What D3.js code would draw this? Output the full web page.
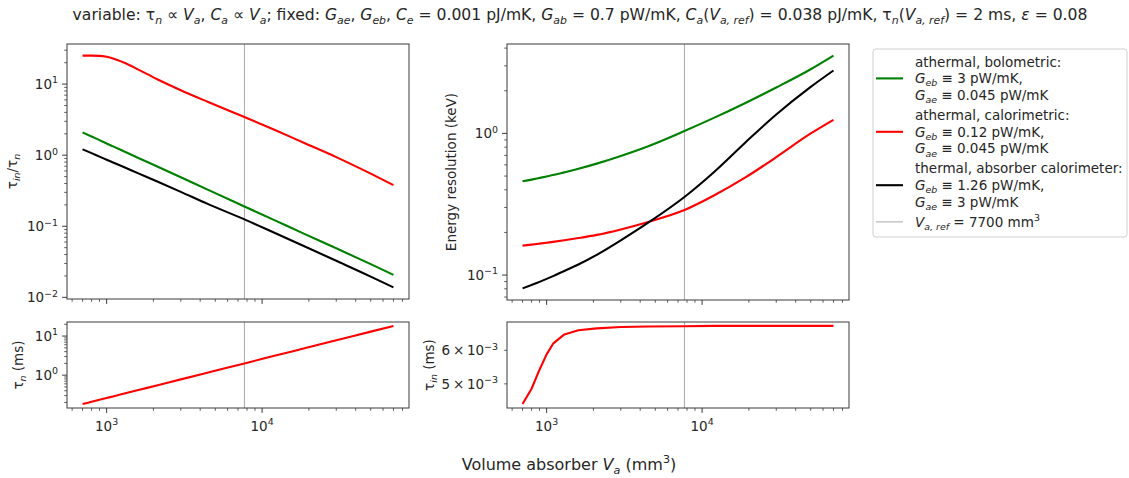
<!DOCTYPE html>
<html>
<head>
<meta charset="utf-8">
<script src="https://cdn.jsdelivr.net/npm/d3@7"></script>
<style>
  body { margin: 0; background: #fff; }
  svg { font-family: "DejaVu Sans", sans-serif; }
</style>
</head>
<body>
<svg id="canvas" width="1129" height="478"></svg>
<script>
'use strict';

/* volumes of the absorber (mm^3) where the curves were read */
const volumes = [700, 800, 900, 1000, 1100, 1300, 1600, 2100, 3000, 4500, 7700, 12000, 19000, 30000, 50000, 70000];
const vRef = 7700;

/* top left: tau_in / tau_n */
const ratioBolo  = [2.09, 1.83, 1.63, 1.46, 1.33, 1.125, 0.915, 0.70, 0.49, 0.325, 0.19, 0.122, 0.077, 0.049, 0.0293, 0.0207];
const ratioCalo  = [25.2, 25.2, 25.0, 24.2, 23.0, 20.0, 16.0, 11.8, 8.2, 5.6, 3.44, 2.28, 1.46, 0.94, 0.55, 0.38];
const ratioTherm = [1.21, 1.07, 0.955, 0.865, 0.79, 0.675, 0.555, 0.43, 0.305, 0.205, 0.125, 0.081, 0.0515, 0.0327, 0.0196, 0.0138];

/* top right: energy resolution (keV) */
const resBolo  = [0.459, 0.472, 0.485, 0.497, 0.508, 0.531, 0.5625, 0.612, 0.693, 0.812, 1.04, 1.292, 1.641, 2.11, 2.838, 3.54];
const resCalo  = [0.1615, 0.1641, 0.1667, 0.1692, 0.1716, 0.1762, 0.1825, 0.1922, 0.2101, 0.2373, 0.2879, 0.3661, 0.4888, 0.68, 0.999, 1.247];
const resTherm = [0.0806, 0.0852, 0.0896, 0.094, 0.0984, 0.107, 0.1187, 0.139, 0.176, 0.2344, 0.356, 0.537, 0.864, 1.36, 2.13, 2.78];

/* bottom row: tau_n and tau_in (ms) */
const tauN  = [0.182, 0.208, 0.234, 0.26, 0.286, 0.338, 0.416, 0.545, 0.78, 1.17, 2.0, 3.12, 4.94, 7.8, 13.0, 18.2];
const tauIn = [0.00448, 0.00487, 0.00540, 0.00587, 0.00622, 0.00654, 0.00669, 0.00676, 0.00681, 0.00683, 0.00684, 0.00685, 0.00685, 0.00685, 0.00685, 0.00685];

const svg = d3.select('#canvas');
const axisColor = '#3a3a3a';
const textColor = '#262626';
const FS = 13.5;

/* write a label made of plain, italic, sub and superscript pieces */
function rich(sel, parts, size){
  let shift = 0;
  parts.forEach(function(p){
    if (typeof p === 'string') p = {t: p};
    let target = p.s === 'sub' ? 0.24*size : (p.s === 'sup' ? -0.42*size : 0);
    let ts = sel.append('tspan').text(p.t);
    if (target !== shift) ts.attr('dy', target - shift);
    if (p.s) ts.attr('font-size', size*0.7);
    if (p.i) ts.attr('font-style', 'italic');
    shift = target;
  });
  return sel;
}

/* log domain with matplotlib-like 5% margins */
function logDomain(values){
  let ext = d3.extent(values);
  let a = Math.log10(ext[0]), b = Math.log10(ext[1]);
  let m = (b - a)*0.05;
  return [Math.pow(10, a - m), Math.pow(10, b + m)];
}

const xDomain = logDomain(volumes);

function logTicks(domain){
  let major = [], minor = [];
  let lo = Math.floor(Math.log10(domain[0])), hi = Math.ceil(Math.log10(domain[1]));
  for (let e = lo; e <= hi; e++){
    for (let k = 1; k < 10; k++){
      let v = k*Math.pow(10, e);
      if (v < domain[0]*0.9999 || v > domain[1]*1.0001) continue;
      (k === 1 ? major : minor).push(v);
    }
  }
  return {major: major, minor: minor};
}

function expParts(v){
  let e = Math.round(Math.log10(v));
  return ['10', {t: (e < 0 ? '\u2212' : '') + Math.abs(e), s: 'sup'}];
}

const panels = [
  {x: 67, y: 44, w: 342, h: 255, series: [[ratioBolo, 'green'], [ratioCalo, 'red'], [ratioTherm, 'black']],
   xlabels: false, ylabel: ['\u03c4', {t: 'in', s: 'sub', i: true}, '/\u03c4', {t: 'n', s: 'sub', i: true}], ylx: 17,
   curve: d3.curveMonotoneX},
  {x: 67, y: 322, w: 342, h: 86, series: [[tauN, 'red']],
   xlabels: true, ylabel: ['\u03c4', {t: 'n', s: 'sub', i: true}, ' (ms)'], ylx: 23, curve: d3.curveMonotoneX},
  {x: 507, y: 44, w: 342, h: 256, series: [[resBolo, 'green'], [resCalo, 'red'], [resTherm, 'black']],
   xlabels: false, ylabel: ['Energy resolution (keV)'], ylx: 456, curve: d3.curveMonotoneX},
  {x: 507, y: 322, w: 342, h: 86, series: [[tauIn, 'red']],
   xlabels: true, ylabel: ['\u03c4', {t: 'in', s: 'sub', i: true}, ' (ms)'], ylx: 434, minorLabels: true,
   curve: d3.curveLinear}
];

panels.forEach(function(p){
  let g = svg.append('g').attr('transform', 'translate(' + p.x + ',' + p.y + ')');
  let all = [];
  p.series.forEach(function(s){ all = all.concat(s[0]); });
  let x = d3.scaleLog().domain(xDomain).range([0, p.w]);
  let yDom = logDomain(all);
  let y = d3.scaleLog().domain(yDom).range([p.h, 0]);

  /* reference volume */
  g.append('line')
    .attr('x1', x(vRef)).attr('x2', x(vRef))
    .attr('y1', 0).attr('y2', p.h)
    .attr('stroke', '#a8a8a8').attr('stroke-width', 1);

  let line = d3.line()
    .x(function(d, i){ return x(volumes[i]); })
    .y(function(d){ return y(d); })
    .curve(p.curve);

  p.series.forEach(function(s){
    g.append('path')
      .datum(s[0])
      .attr('d', line)
      .attr('fill', 'none')
      .attr('stroke', s[1])
      .attr('stroke-width', 2.1)
      .attr('stroke-linejoin', 'round');
  });

  /* frame */
  g.append('rect')
    .attr('width', p.w).attr('height', p.h)
    .attr('fill', 'none').attr('stroke', axisColor).attr('stroke-width', 1);

  /* x ticks */
  let xt = logTicks(xDomain);
  xt.major.forEach(function(v){
    g.append('line').attr('x1', x(v)).attr('x2', x(v)).attr('y1', p.h).attr('y2', p.h + 4.9)
      .attr('stroke', axisColor);
    if (p.xlabels){
      rich(g.append('text').attr('x', x(v)).attr('y', p.h + 23).attr('text-anchor', 'middle')
        .attr('font-size', FS).attr('fill', textColor), expParts(v), FS);
    }
  });
  xt.minor.forEach(function(v){
    g.append('line').attr('x1', x(v)).attr('x2', x(v)).attr('y1', p.h).attr('y2', p.h + 2.8)
      .attr('stroke', axisColor).attr('stroke-width', 0.8);
  });

  /* y ticks */
  let yt = logTicks(yDom);
  yt.major.forEach(function(v){
    g.append('line').attr('x1', -4.9).attr('x2', 0).attr('y1', y(v)).attr('y2', y(v)).attr('stroke', axisColor);
    rich(g.append('text').attr('x', -9).attr('y', y(v) + 5).attr('text-anchor', 'end')
      .attr('font-size', FS).attr('fill', textColor), expParts(v), FS);
  });
  yt.minor.forEach(function(v){
    g.append('line').attr('x1', -2.8).attr('x2', 0).attr('y1', y(v)).attr('y2', y(v))
      .attr('stroke', axisColor).attr('stroke-width', 0.8);
    if (p.minorLabels){
      let e = Math.floor(Math.log10(v));
      let k = Math.round(v/Math.pow(10, e));
      rich(g.append('text').attr('x', -9).attr('y', y(v) + 5).attr('text-anchor', 'end')
        .attr('font-size', FS).attr('fill', textColor),
        [k + '\u2009\u00d7\u200910', {t: (e < 0 ? '\u2212' : '') + Math.abs(e), s: 'sup'}], FS);
    }
  });

  /* y label */
  rich(svg.append('text')
    .attr('transform', 'translate(' + p.ylx + ',' + (p.y + p.h/2) + ') rotate(-90)')
    .attr('text-anchor', 'middle').attr('font-size', FS).attr('fill', textColor), p.ylabel, FS);
});

/* title */
rich(svg.append('text').attr('x', 580).attr('y', 20).attr('text-anchor', 'middle')
  .attr('font-size', 15.6).attr('fill', textColor), [
  'variable: \u03c4', {t: 'n', s: 'sub', i: true}, ' \u221d ', {t: 'V', i: true}, {t: 'a', s: 'sub', i: true},
  ', ', {t: 'C', i: true}, {t: 'a', s: 'sub', i: true}, ' \u221d ', {t: 'V', i: true}, {t: 'a', s: 'sub', i: true},
  '; fixed: ', {t: 'G', i: true}, {t: 'ae', s: 'sub', i: true}, ', ', {t: 'G', i: true}, {t: 'eb', s: 'sub', i: true},
  ', ', {t: 'C', i: true}, {t: 'e', s: 'sub', i: true}, ' = 0.001 pJ/mK, ', {t: 'G', i: true}, {t: 'ab', s: 'sub', i: true},
  ' = 0.7 pW/mK, ', {t: 'C', i: true}, {t: 'a', s: 'sub', i: true}, '(', {t: 'V', i: true}, {t: 'a, ref', s: 'sub', i: true},
  ') = 0.038 pJ/mK, \u03c4', {t: 'n', s: 'sub', i: true}, '(', {t: 'V', i: true}, {t: 'a, ref', s: 'sub', i: true},
  ') = 2 ms, ', {t: '\u03b5', i: true}, ' = 0.08'], 15.6);

/* shared x label */
rich(svg.append('text').attr('x', 569).attr('y', 470).attr('text-anchor', 'middle')
  .attr('font-size', 16).attr('fill', textColor),
  ['Volume absorber ', {t: 'V', i: true}, {t: 'a', s: 'sub', i: true}, ' (mm', {t: '3', s: 'sup'}, ')'], 16);

/* legend */
const legendEntries = [
  {color: 'green', width: 2.1, lines: [
    ['athermal, bolometric:'],
    [{t: 'G', i: true}, {t: 'eb', s: 'sub', i: true}, ' \u2261 3 pW/mK,'],
    [{t: 'G', i: true}, {t: 'ae', s: 'sub', i: true}, ' \u2261 0.045 pW/mK']]},
  {color: 'red', width: 2.1, lines: [
    ['athermal, calorimetric:'],
    [{t: 'G', i: true}, {t: 'eb', s: 'sub', i: true}, ' \u2261 0.12 pW/mK,'],
    [{t: 'G', i: true}, {t: 'ae', s: 'sub', i: true}, ' \u2261 0.045 pW/mK']]},
  {color: 'black', width: 2.1, lines: [
    ['thermal, absorber calorimeter:'],
    [{t: 'G', i: true}, {t: 'eb', s: 'sub', i: true}, ' \u2261 1.26 pW/mK,'],
    [{t: 'G', i: true}, {t: 'ae', s: 'sub', i: true}, ' \u2261 3 pW/mK']]},
  {color: '#a8a8a8', width: 1, lines: [
    [{t: 'V', i: true}, {t: 'a, ref', s: 'sub', i: true}, ' = 7700 mm', {t: '3', s: 'sup'}]]}
];

let legend = svg.append('g').attr('transform', 'translate(873,49)');
legend.append('rect')
  .attr('width', 254).attr('height', 188).attr('rx', 3)
  .attr('fill', 'white').attr('stroke', '#d0d0d0');

let ly = 12.7;
legendEntries.forEach(function(entry){
  let mid = ly + (entry.lines.length - 1)/2*16.7;
  legend.append('line')
    .attr('x1', 3).attr('x2', 30).attr('y1', mid).attr('y2', mid)
    .attr('stroke', entry.color).attr('stroke-width', entry.width);
  entry.lines.forEach(function(parts, i){
    rich(legend.append('text').attr('x', 42).attr('y', ly + i*16.7 + 4.8)
      .attr('font-size', FS).attr('fill', textColor), parts, FS);
  });
  ly += entry.lines.length*16.7 + 3.3;
});
</script>
</body>
</html>
